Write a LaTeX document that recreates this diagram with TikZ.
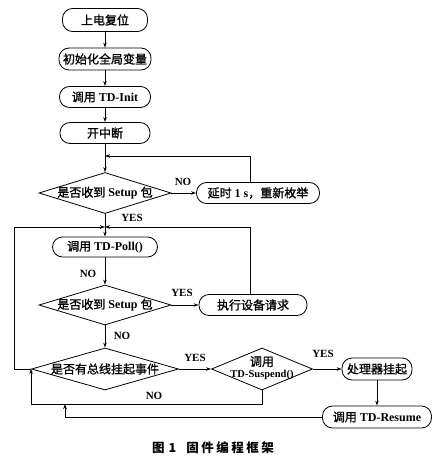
\documentclass[tikz,border=0pt]{standalone}
\usepackage{fontspec}
\setmainfont{Liberation Serif}
\newfontfamily\cjk[FakeBold=1.2]{Noto Sans CJK SC}
\newfontfamily\cjkcap[LetterSpace=20]{Noto Sans CJK SC}
\usetikzlibrary{shapes.geometric,arrows.meta,calc}
\newcommand\zh[1]{{\cjk\mdseries #1}}
\begin{document}
\begin{tikzpicture}[x=1pt,y=-1pt,
  every node/.style={font=\fontsize{12}{13}\selectfont\bfseries},
  proc/.style={draw, line width=0.8pt, rounded corners=10pt, minimum height=21pt, inner sep=0pt},
  dia/.style={draw, line width=0.8pt, diamond, inner sep=0pt},
  lbl/.style={font=\fontsize{11}{12}\selectfont\bfseries, inner sep=0pt},
  arr/.style={line width=0.8pt, -{Stealth[length=5pt,width=3.5pt]}},
  ln/.style={line width=0.8pt}]
\useasboundingbox (0,0) rectangle (435,468);
% main column
\node[proc, minimum width=85pt, minimum height=23pt] (n1) at (105,20) {\zh{上电复位}};
\node[proc, minimum width=92pt, minimum height=22pt] (n2) at (105,59) {\zh{初始化全局变量}};
\node[proc, minimum width=91pt] (n3) at (105,97) {\zh{调用} TD-Init};
\node[proc, minimum width=90pt] (n4) at (105,133) {\zh{开中断}};
\node[dia, minimum width=132pt, minimum height=41pt] (d1) at (105,193) {};
\node (d1t) at (d1) {\zh{是否收到} Setup \zh{包}};
\node[proc, minimum width=123pt] (delay) at (258,193) {\zh{延时} 1 s\zh{，重新枚举}};
\node[proc, minimum width=105pt, minimum height=20pt] (poll) at (105,247) {\zh{调用} TD-Poll()};
\node[dia, minimum width=132pt, minimum height=40pt] (d2) at (105,305) {};
\node (d2t) at (d2) {\zh{是否收到} Setup \zh{包}};
\node[proc, minimum width=108pt] (exec) at (253,305) {\zh{执行设备请求}};
\node[dia, minimum width=147pt, minimum height=42pt] (d3) at (105,369) {};
\node (d3t) at (d3) {\zh{是否有总线挂起事件}};
\node[dia, minimum width=101pt, minimum height=42pt] (d4) at (262,369) {};
\node[align=center, font=\fontsize{10.5}{11.5}\selectfont\bfseries] (d4t) at (262,368) {\zh{\fontsize{12}{12}\selectfont 调用}\\TD-Suspend()};
\node[proc, minimum width=70pt, minimum height=22pt] (hang) at (377,369) {\zh{处理器挂起}};
\node[proc, minimum width=109pt, minimum height=22pt] (resume) at (377,417) {\zh{调用} TD-Resume};
% junctions
\coordinate (j1) at (105,156);
\coordinate (j2) at (105,227);
\coordinate (c3) at (14,369);
\coordinate (c4) at (65,404);
% connectors
\draw[arr] (n1) -- (n2);
\draw[arr] (n2) -- (n3);
\draw[arr] (n3) -- (n4);
\draw[arr] (n4) -- (d1);
\draw[arr] (d1) -- (delay);
\draw[arr] ([xshift=-8pt]delay.north) |- (j1);
\draw[arr] (d1) -- (poll);
\draw[arr] (d3.west) -- (c3) |- (j2);
\draw[arr] ([xshift=-3pt]exec.north) |- (j2);
\draw[arr] (poll) -- (d2);
\draw[arr] (d2) -- (exec);
\draw[arr] (d2) -- (d3);
\draw[arr] (d3) -- (d4);
\draw[arr] (d4) -- (hang);
\draw[arr] (hang) -- (resume);
\draw[arr] (d4.south) |- ($(d3.west)+(0,35)$) -- (d3.west);
\draw[arr] (resume.west) -| (c4);
% labels
\node[lbl] (noA) at (183,182) {NO};
\node[lbl] (yesA) at (132,218) {YES};
\node[lbl] (noB) at (88,274) {NO};
\node[lbl] (yesB) at (182,293) {YES};
\node[lbl] (noC) at (122,336) {NO};
\node[lbl] (yesC) at (195,358) {YES};
\node[lbl] (yesD) at (323,354) {YES};
\node[lbl] (noD) at (154,396) {NO};
\node[font=\fontsize{12.5}{14}\selectfont\bfseries] (cap) at (213,448) {\cjkcap 图\hspace{4pt}1\hspace{10pt}固件编程框架};
\end{tikzpicture}
\end{document}
